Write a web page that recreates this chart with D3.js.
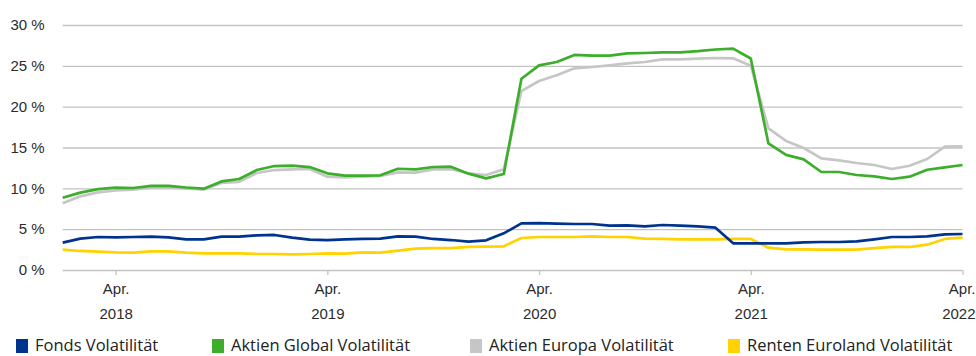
<!DOCTYPE html>
<html>
<head>
<meta charset="utf-8">
<script src="https://cdn.jsdelivr.net/npm/d3@7"></script>
<style>
  html, body { margin: 0; padding: 0; background: #fff; }
  svg { display: block; font-family: "Open Sans", "Noto Sans", sans-serif; }
  .axis text { fill: #2b2b2b; }
</style>
</head>
<body>
<svg id="chart" width="976" height="356"></svg>
<script>
// Monthly observation dates
const months = [
  "2018-01","2018-02","2018-03","2018-04","2018-05","2018-06","2018-07","2018-08","2018-09","2018-10","2018-11","2018-12",
  "2019-01","2019-02","2019-03","2019-04","2019-05","2019-06","2019-07","2019-08","2019-09","2019-10","2019-11","2019-12",
  "2020-01","2020-02","2020-03","2020-04","2020-05","2020-06","2020-07","2020-08","2020-09","2020-10","2020-11","2020-12",
  "2021-01","2021-02","2021-03","2021-04","2021-05","2021-06","2021-07","2021-08","2021-09","2021-10","2021-11","2021-12",
  "2022-01","2022-02","2022-03","2022-04"
];

// Volatility in percent
const fondsVol = [
  3.35, 3.84, 4.04, 4.00, 4.04, 4.08, 4.00, 3.76, 3.76, 4.08, 4.08, 4.24,
  4.29, 3.96, 3.71, 3.67, 3.76, 3.80, 3.84, 4.12, 4.08, 3.80, 3.67, 3.47,
  3.63, 4.49, 5.71, 5.75, 5.67, 5.63, 5.63, 5.43, 5.47, 5.35, 5.51, 5.43,
  5.35, 5.18, 3.27, 3.27, 3.27, 3.27, 3.39, 3.43, 3.43, 3.51, 3.76, 4.04,
  4.04, 4.12, 4.37, 4.41
];
const aktienGlobalVol = [
  8.85, 9.47, 9.90, 10.08, 10.04, 10.30, 10.30, 10.10, 9.96, 10.85, 11.14, 12.24,
  12.73, 12.77, 12.60, 11.84, 11.55, 11.55, 11.59, 12.40, 12.33, 12.61, 12.65, 11.80,
  11.22, 11.75, 23.42, 25.06, 25.47, 26.33, 26.24, 26.24, 26.53, 26.57, 26.65, 26.65,
  26.80, 27.00, 27.10, 25.90, 15.50, 14.10, 13.55, 12.00, 12.00, 11.63, 11.47, 11.14,
  11.43, 12.28, 12.57, 12.86
];
const aktienEuropaVol = [
  8.16, 9.02, 9.50, 9.76, 9.84, 10.08, 10.10, 10.00, 9.85, 10.65, 10.80, 11.88,
  12.24, 12.33, 12.37, 11.43, 11.35, 11.43, 11.51, 11.96, 11.92, 12.33, 12.33, 11.84,
  11.63, 12.33, 21.92, 23.14, 23.84, 24.69, 24.86, 25.06, 25.30, 25.47, 25.80, 25.80,
  25.88, 25.96, 25.92, 25.02, 17.35, 15.80, 14.94, 13.67, 13.43, 13.10, 12.86, 12.37,
  12.77, 13.59, 15.10, 15.14
];
const rentenEurolandVol = [
  2.49, 2.33, 2.25, 2.16, 2.12, 2.29, 2.29, 2.12, 2.04, 2.04, 2.04, 1.96,
  1.96, 1.92, 1.96, 2.04, 2.00, 2.16, 2.12, 2.37, 2.61, 2.69, 2.69, 2.82,
  2.86, 2.90, 3.92, 4.04, 4.04, 4.04, 4.12, 4.04, 4.04, 3.84, 3.80, 3.76,
  3.76, 3.76, 3.80, 3.80, 2.73, 2.53, 2.53, 2.49, 2.49, 2.49, 2.69, 2.82,
  2.82, 3.10, 3.80, 3.96
];

// Axis ticks
const xTickMonths = ["2018-04","2019-04","2020-04","2021-04","2022-04"];
const xTickMonthLabel = "Apr.";
const xTickYears = ["2018","2019","2020","2021","2022"];
const yTicks = [0, 5, 10, 15, 20, 25, 30];

// Series definitions (legend order)
const seriesNames = ["Fonds Volatilität","Aktien Global Volatilität","Aktien Europa Volatilität","Renten Euroland Volatilität"];
const seriesValues = [fondsVol, aktienGlobalVol, aktienEuropaVol, rentenEurolandVol];
const seriesColors = ["#00338d", "#3cae2b", "#c6c6c6", "#ffd200"];
const drawOrder = [3, 2, 0, 1];

const width = 976;
const svg = d3.select("#chart");
const plotLeft = 62.7, plotRight = 962.5, plotTop = 25, plotBottom = 270;

const x = d3.scalePoint().domain(months).range([plotLeft, plotRight]);
const y = d3.scaleLinear().domain([0, 30]).range([plotBottom, plotTop]);

// Horizontal gridlines with y labels
const yAxis = svg.append("g")
  .attr("class", "axis y")
  .attr("transform", `translate(${plotLeft},0)`)
  .call(d3.axisLeft(y).tickValues(yTicks).tickSize(-(plotRight - plotLeft)).tickPadding(18)
        .tickFormat(d => d + " %"));
yAxis.select(".domain").remove();
yAxis.selectAll(".tick line").attr("stroke", "#c3c3c3").attr("stroke-width", 1.3);
yAxis.selectAll(".tick text").attr("font-size", 15);

// Bottom axis: tick marks at April, two-line labels
const xAxis = svg.append("g")
  .attr("class", "axis x")
  .attr("transform", `translate(0,${plotBottom})`)
  .call(d3.axisBottom(x).tickValues(xTickMonths).tickSize(5).tickPadding(8)
        .tickFormat(() => xTickMonthLabel));
xAxis.select(".domain").remove();
xAxis.selectAll(".tick line").attr("stroke", "#c3c3c3").attr("stroke-width", 1.3);
xAxis.selectAll(".tick text")
  .attr("font-size", 15)
  .each(function(d, i) {
    d3.select(this).append("tspan")
      .attr("x", 0).attr("dy", "1.7em").text(xTickYears[i]);
  });
// keep the last label inside the right edge
xAxis.selectAll(".tick").filter((d, i, n) => i === n.length - 1)
  .select("text")
  .attr("text-anchor", "end")
  .attr("x", width - 1 - x(xTickMonths[xTickMonths.length - 1]))
  .select("tspan")
  .attr("x", width - 1 - x(xTickMonths[xTickMonths.length - 1]));

// Lines
const line = d3.line()
  .x((d, i) => x(months[i]))
  .y(d => y(d));

svg.append("g").selectAll("path")
  .data(drawOrder)
  .join("path")
  .attr("fill", "none")
  .attr("stroke", k => seriesColors[k])
  .attr("stroke-width", 2.7)
  .attr("stroke-linejoin", "round")
  .attr("d", k => line(seriesValues[k]));

// Legend
const legendX = [16, 212, 470, 728];
const legend = svg.append("g").attr("class", "legend")
  .selectAll("g")
  .data(seriesNames)
  .join("g")
  .attr("transform", (d, i) => `translate(${legendX[i]},339)`);
legend.append("rect")
  .attr("width", 12).attr("height", 14)
  .attr("fill", (d, i) => seriesColors[i]);
legend.append("text")
  .attr("x", 19).attr("y", 12)
  .attr("font-size", 16.5)
  .attr("fill", "#222")
  .text(d => d);
</script>
</body>
</html>
